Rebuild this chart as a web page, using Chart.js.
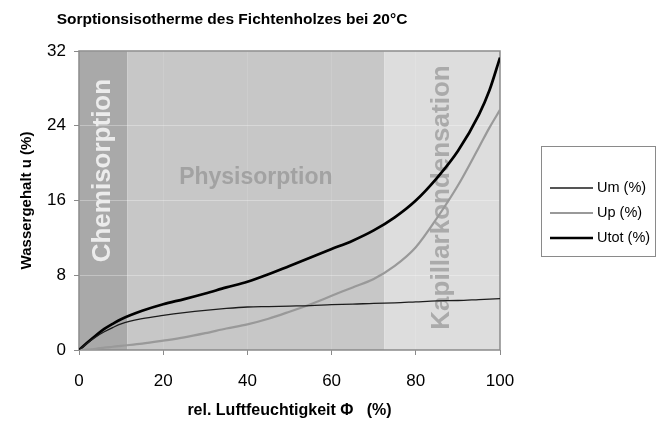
<!DOCTYPE html>
<html>
<head>
<meta charset="utf-8">
<script src="https://cdn.jsdelivr.net/npm/chart.js@4.4.1/dist/chart.umd.min.js"></script>
<style>
    html, body { margin: 0; padding: 0; background: #fff; }
    #wrap { width: 667px; height: 422px; }
</style>
</head>
<body>
<div id="wrap"><canvas id="chart" width="667" height="422"></canvas></div>
<script>
// Data
const humidity   = [0, 2, 4, 6, 8, 10, 15, 20, 25, 30, 35, 40, 45, 50, 55, 60, 65, 70, 75, 80, 85, 90, 95, 97.5, 100];
const umValues   = [0, 0.75, 1.4, 1.95, 2.4, 2.8, 3.35, 3.7, 4.0, 4.25, 4.45, 4.6, 4.65, 4.7, 4.75, 4.85, 4.9, 5.0, 5.05, 5.15, 5.25, 5.3, 5.4, 5.45, 5.5];
const upValues   = [0, 0.05, 0.13, 0.25, 0.35, 0.45, 0.68, 1.0, 1.35, 1.8, 2.3, 2.75, 3.35, 4.1, 4.9, 5.8, 6.7, 7.6, 9.0, 11.0, 14.1, 17.6, 21.7, 23.8, 25.7];
const utotValues = [0, 0.8, 1.55, 2.25, 2.8, 3.3, 4.2, 4.9, 5.45, 6.05, 6.7, 7.3, 8.1, 9.0, 9.9, 10.8, 11.7, 12.8, 14.2, 16.0, 18.4, 21.3, 25.2, 27.8, 31.3];
const seriesLabels = ['Um (%)', 'Up (%)', 'Utot (%)'];

const xTicks = [0, 20, 40, 60, 80, 100];
const yTicks = [0, 8, 16, 24, 32];

const regionNames  = ['Chemisorption', 'Physisorption', 'Kapillarkondensation'];
const regionBounds = [0, 11.5, 72.5, 100];

const chartTitle = 'Sorptionsisotherme des Fichtenholzes bei 20°C';
const xTitle = 'rel. Luftfeuchtigkeit \u03A6   (%)';
const yTitle = 'Wassergehalt u (%)';

// Styles
const regionFill = ['#a9a9a9', '#c7c7c7', '#dddddd'];
const regionText = ['#ececec', '#a2a2a2', '#aaaaaa'];
const regionFont = [26, 23, 26];
const regionRotated = [true, false, true];
const regionYFrac = [0.40, 0.425, 0.49];
const FONT = 'Arial, "Liberation Sans", sans-serif';

function points(ys) {
    return humidity.map((x, i) => ({ x: x, y: ys[i] }));
}

const decorPlugin = {
    id: 'decor',
    beforeDraw(chart) {
        const { ctx, chartArea: a, scales: { x } } = chart;
        ctx.save();
        regionNames.forEach((name, i) => {
            const x0 = x.getPixelForValue(regionBounds[i]);
            const x1 = x.getPixelForValue(regionBounds[i + 1]);
            ctx.fillStyle = regionFill[i];
            ctx.fillRect(x0, a.top, x1 - x0, a.bottom - a.top);
        });
        ctx.restore();
    },
    beforeDatasetsDraw(chart) {
        const { ctx, chartArea: a, scales: { x } } = chart;
        ctx.save();
        // region labels
        regionNames.forEach((name, i) => {
            const cx = (x.getPixelForValue(regionBounds[i]) + x.getPixelForValue(regionBounds[i + 1])) / 2;
            const cy = a.top + (a.bottom - a.top) * regionYFrac[i];
            ctx.save();
            ctx.translate(cx, cy);
            if (regionRotated[i]) ctx.rotate(-Math.PI / 2);
            ctx.font = 'bold ' + regionFont[i] + 'px ' + FONT;
            ctx.fillStyle = regionText[i];
            ctx.textAlign = 'center';
            ctx.textBaseline = 'middle';
            ctx.fillText(name, 0, 0);
            ctx.restore();
        });
        // plot frame
        ctx.strokeStyle = '#8a8a8a';
        ctx.lineWidth = 1.5;
        ctx.strokeRect(a.left, a.top, a.right - a.left, a.bottom - a.top);
        ctx.restore();
    },
    afterDraw(chart) {
        const { ctx } = chart;
        ctx.save();
        // title
        ctx.font = 'bold 15.5px ' + FONT;
        ctx.fillStyle = '#000';
        ctx.textAlign = 'center';
        ctx.textBaseline = 'middle';
        ctx.fillText(chartTitle, 232, 20);

        // legend
        ctx.strokeStyle = '#8a8a8a';
        ctx.lineWidth = 1;
        ctx.strokeRect(541.5, 146.5, 114, 110);
        ctx.font = '14.5px ' + FONT;
        ctx.textAlign = 'left';
        chart.data.datasets.forEach((ds, i) => {
            const yy = 188 + i * 25;
            ctx.strokeStyle = ds.borderColor;
            ctx.lineWidth = ds.borderWidth;
            ctx.beginPath();
            ctx.moveTo(550, yy);
            ctx.lineTo(593, yy);
            ctx.stroke();
            ctx.fillStyle = '#000';
            ctx.fillText(ds.label, 597, yy);
        });
        ctx.restore();
    }
};

const ctx = document.getElementById('chart').getContext('2d');
const chart = new Chart(ctx, {
    type: 'line',
    data: {
        datasets: [
            { label: seriesLabels[0], data: points(umValues), borderColor: '#1c1c1c', borderWidth: 1.3 },
            { label: seriesLabels[1], data: points(upValues), borderColor: '#999999', borderWidth: 2.2 },
            { label: seriesLabels[2], data: points(utotValues), borderColor: '#000000', borderWidth: 2.7 }
        ]
    },
    options: {
        responsive: false,
        devicePixelRatio: 1,
        animation: false,
        layout: { padding: { top: 51, right: 167, left: 0, bottom: 0 } },
        elements: {
            point: { radius: 0 },
            line: { cubicInterpolationMode: 'monotone', fill: false }
        },
        plugins: {
            legend: { display: false },
            title: { display: false },
            tooltip: { enabled: false }
        },
        scales: {
            x: {
                type: 'linear',
                min: 0,
                max: 100,
                afterBuildTicks: s => { s.ticks = xTicks.map(v => ({ value: v })); },
                afterFit: s => { s.height = 72; },
                grid: { color: 'rgba(255,255,255,0.12)', tickColor: '#8a8a8a', tickLength: 5 },
                border: { display: false },
                ticks: { color: '#000', font: { size: 17, family: FONT }, padding: 16, maxRotation: 0 },
                title: { display: true, text: xTitle, color: '#000', font: { size: 16, weight: 'bold', family: FONT }, padding: { top: 0, bottom: 2 } }
            },
            y: {
                min: 0,
                max: 32,
                afterBuildTicks: s => { s.ticks = yTicks.map(v => ({ value: v })); },
                afterFit: s => { s.width = 79; },
                grid: { color: 'rgba(255,255,255,0.3)', tickColor: '#8a8a8a', tickLength: 5 },
                border: { display: false },
                ticks: { color: '#000', font: { size: 17, family: FONT }, padding: 8 },
                title: { display: true, text: yTitle, color: '#000', font: { size: 15, weight: 'bold', family: FONT }, padding: { top: 18, bottom: 0 } }
            }
        }
    },
    plugins: [decorPlugin]
});
</script>
</body>
</html>
